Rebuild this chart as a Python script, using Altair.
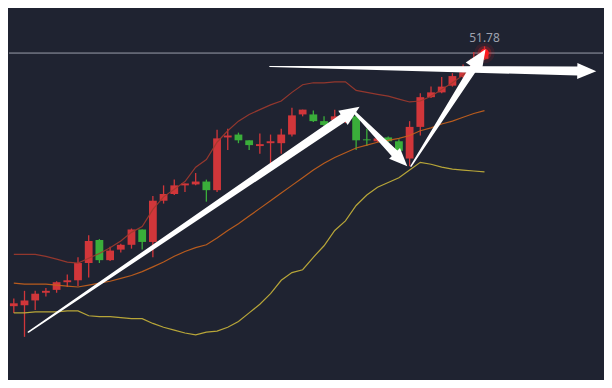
import math
import altair as alt
import pandas as pd

# ---- data ----
opens = [38.58, 38.63, 38.88, 39.28, 39.43, 39.83, 39.93, 40.83, 42.03, 40.98, 41.53, 41.78, 42.58, 41.93, 44.08,
         44.43, 44.88, 44.93, 45.08, 44.63, 47.38, 47.53, 47.23, 46.93, 47.08, 47.08, 47.53, 48.58, 48.58, 48.23,
         48.28, 48.23, 48.48, 47.28, 47.18, 47.38, 47.18, 46.28, 47.93, 49.48, 49.73, 50.08, 50.53, 51.13, 51.48]
closes = [38.73, 38.88, 39.23, 39.38, 39.83, 39.93, 40.83, 41.98, 40.98, 41.48, 41.78, 42.58, 41.93, 44.08, 44.43,
          44.88, 44.98, 45.08, 44.63, 47.33, 47.48, 47.23, 46.98, 47.03, 47.18, 47.53, 48.53, 48.83, 48.23, 48.03,
          48.48, 48.63, 47.23, 47.23, 47.33, 47.18, 46.68, 47.93, 49.48, 49.73, 50.03, 50.58, 50.78, 51.48, 51.78]
highs = [38.98, 39.38, 39.38, 39.53, 39.88, 40.23, 41.13, 42.28, 42.08, 41.68, 41.83, 42.63, 42.58, 44.33, 44.88,
         45.18, 44.98, 45.53, 45.18, 47.78, 47.83, 47.63, 47.23, 47.58, 47.53, 47.83, 48.93, 48.83, 48.78, 48.48,
         48.83, 48.73, 48.68, 47.83, 47.38, 47.43, 47.28, 48.23, 49.68, 50.03, 50.53, 50.73, 51.18, 51.83, 52.13]
lows = [38.23, 36.98, 38.38, 39.08, 39.28, 39.58, 39.63, 40.08, 40.83, 40.93, 41.38, 41.58, 41.53, 41.13, 43.93,
        44.38, 44.53, 44.88, 44.03, 44.53, 46.73, 47.08, 46.73, 46.53, 46.03, 46.53, 47.43, 48.48, 48.18, 47.98,
        48.23, 48.13, 46.73, 46.93, 47.13, 47.13, 46.63, 45.88, 47.48, 49.43, 49.68, 50.03, 50.48, 51.08, 51.43]

upper = [41.28, 41.28, 41.28, 41.18, 41.03, 40.88, 40.83, 41.08, 41.33, 41.63, 41.98, 42.43, 42.73, 43.63, 44.28,
         44.68, 45.08, 45.83, 46.23, 47.13, 47.73, 48.23, 48.58, 48.83, 49.08, 49.28, 49.73, 50.13, 50.23, 50.23,
         50.28, 50.28, 49.83, 49.73, 49.63, 49.53, 49.38, 49.23, 49.28, 49.53, 49.88, 50.23, 50.63, 51.13, 51.53]
middle = [39.78, 39.73, 39.73, 39.73, 39.68, 39.63, 39.58, 39.68, 39.78, 39.88, 40.03, 40.18, 40.38, 40.63, 40.88,
          41.18, 41.43, 41.63, 41.78, 42.13, 42.53, 42.88, 43.28, 43.68, 44.08, 44.48, 44.88, 45.28, 45.68, 46.03,
          46.33, 46.58, 46.83, 46.98, 47.13, 47.23, 47.33, 47.48, 47.73, 47.88, 48.08, 48.23, 48.43, 48.63, 48.78]
lower = [38.23, 38.23, 38.28, 38.28, 38.28, 38.33, 38.33, 38.08, 38.03, 38.03, 37.98, 37.93, 37.93, 37.68, 37.48,
         37.33, 37.18, 37.08, 37.23, 37.28, 37.48, 37.78, 38.23, 38.68, 39.23, 39.93, 40.33, 40.48, 41.13, 41.73,
         42.53, 43.03, 43.83, 44.38, 44.78, 45.03, 45.28, 45.68, 46.08, 45.98, 45.83, 45.73, 45.68, 45.63, 45.58]

last_price = 51.78
last_label = "51.78"

# annotation arrows: tail (index, price) -> tip (index, price)
arrow_tail_i = [1.36, 31.95, 37.13, 23.93]
arrow_tail_p = [37.23, 48.63, 45.88, 51.08]
arrow_tip_i = [32.31, 36.77, 44.09, 54.43]
arrow_tip_p = [48.98, 45.88, 51.98, 50.83]
arrow_tail_w = [1.5, 3.0, 1.5, 1.2]
arrow_neck_w = [9.0, 8.0, 8.0, 9.0]
arrow_head_len = [20.0, 18.0, 22.0, 19.0]

# ---- layout / style ----
W, H = 596, 372
X_DOMAIN = [0.018, 54.61]
Y_DOMAIN = [34.73, 54.13]
BG = "#1f2331"
RED = "#d1363a"
GREEN = "#3aae3a"

n = len(opens)
idx = list(range(n))
candles = pd.DataFrame({"i": idx, "open": opens, "close": closes, "high": highs, "low": lows})

xs = alt.Scale(domain=X_DOMAIN, nice=False, zero=False)
ys = alt.Scale(domain=Y_DOMAIN, nice=False, zero=False)

updown = alt.condition("datum.close >= datum.open", alt.value(RED), alt.value(GREEN))

base = alt.Chart(candles)
wicks = base.mark_rule(strokeWidth=1.3, clip=True).encode(
    x=alt.X("i:Q", scale=xs, axis=None),
    y=alt.Y("low:Q", scale=ys, axis=None),
    y2="high:Q",
    color=updown,
)
bodies = base.mark_bar(size=7.8, clip=True).encode(
    x=alt.X("i:Q", scale=xs, axis=None),
    y=alt.Y("open:Q", scale=ys, axis=None),
    y2="close:Q",
    color=updown,
)


def band_layer(vals, color):
    df = pd.DataFrame({"i": idx, "v": vals})
    return alt.Chart(df).mark_line(color=color, strokeWidth=1.2, opacity=0.9, clip=True).encode(
        x=alt.X("i:Q", scale=xs, axis=None),
        y=alt.Y("v:Q", scale=ys, axis=None),
    )


up_l = band_layer(upper, "#a03a2e")
mid_l = band_layer(middle, "#c9621c")
low_l = band_layer(lower, "#c8b43a")

price_df = pd.DataFrame({"p": [last_price], "i": [n - 1], "t": [last_label]})
price_rule = alt.Chart(price_df).mark_rule(color="#9a9eab", strokeWidth=1).encode(
    y=alt.Y("p:Q", scale=ys, axis=None)
)
price_text = alt.Chart(price_df).mark_text(
    color="#9ea2ae", fontSize=12, font="Noto Sans", dy=-11, baseline="alphabetic", align="center"
).encode(
    x=alt.X("i:Q", scale=xs, axis=None),
    y=alt.Y("p:Q", scale=ys, axis=None),
    text="t:N",
)


def dot(size, op):
    return alt.Chart(price_df).mark_circle(color="#ff1a1f", size=size, opacity=op).encode(
        x=alt.X("i:Q", scale=xs, axis=None),
        y=alt.Y("p:Q", scale=ys, axis=None),
    )


glow = dot(420, 0.10) + dot(200, 0.25) + dot(75, 1.0)

# ---- arrows ----
sx = W / (X_DOMAIN[1] - X_DOMAIN[0])
sy = H / (Y_DOMAIN[1] - Y_DOMAIN[0])
shaft_rows, head_rows = [], []
for k in range(len(arrow_tail_i)):
    ti, tp, hi, hp = arrow_tail_i[k], arrow_tail_p[k], arrow_tip_i[k], arrow_tip_p[k]
    dxp = (hi - ti) * sx
    dyp = -(hp - tp) * sy
    ln = math.hypot(dxp, dyp)
    ux, uy = dxp / ln, dyp / ln
    L = arrow_head_len[k]
    bi = hi - L * ux / sx
    bp = hp + L * uy / sy
    ci = hi - 0.5 * L * ux / sx
    cp = hp + 0.5 * L * uy / sy
    shaft_rows.append({"a": k, "s": 0, "i": ti, "p": tp, "w": arrow_tail_w[k]})
    shaft_rows.append({"a": k, "s": 1, "i": bi, "p": bp, "w": arrow_neck_w[k]})
    ang = math.degrees(math.atan2(ux, -uy)) % 360
    head_rows.append({"a": k, "i": ci, "p": cp, "sz": L * L, "ang": ang})

shafts = alt.Chart(pd.DataFrame(shaft_rows)).mark_trail(color="white", clip=True).encode(
    x=alt.X("i:Q", scale=xs, axis=None),
    y=alt.Y("p:Q", scale=ys, axis=None),
    size=alt.Size("w:Q", scale=None, legend=None),
    detail="a:N",
    order="s:O",
)
heads = alt.Chart(pd.DataFrame(head_rows)).mark_point(
    shape="M0,-1L0.85,1L-0.85,1Z", filled=True, color="white", opacity=1, strokeWidth=0
).encode(
    x=alt.X("i:Q", scale=xs, axis=None),
    y=alt.Y("p:Q", scale=ys, axis=None),
    size=alt.Size("sz:Q", scale=None, legend=None),
    angle=alt.Angle("ang:Q", scale=None),
)

chart = alt.layer(
    price_rule, wicks, bodies, up_l, mid_l, low_l, glow, shafts, heads, price_text
).properties(
    width=W, height=H, background=BG, padding=0,
    autosize=alt.AutoSizeParams(type="fit", contains="padding"),
).configure_view(stroke=None)

chart.save("out.html", embed_options={"renderer": "svg", "actions": False})
